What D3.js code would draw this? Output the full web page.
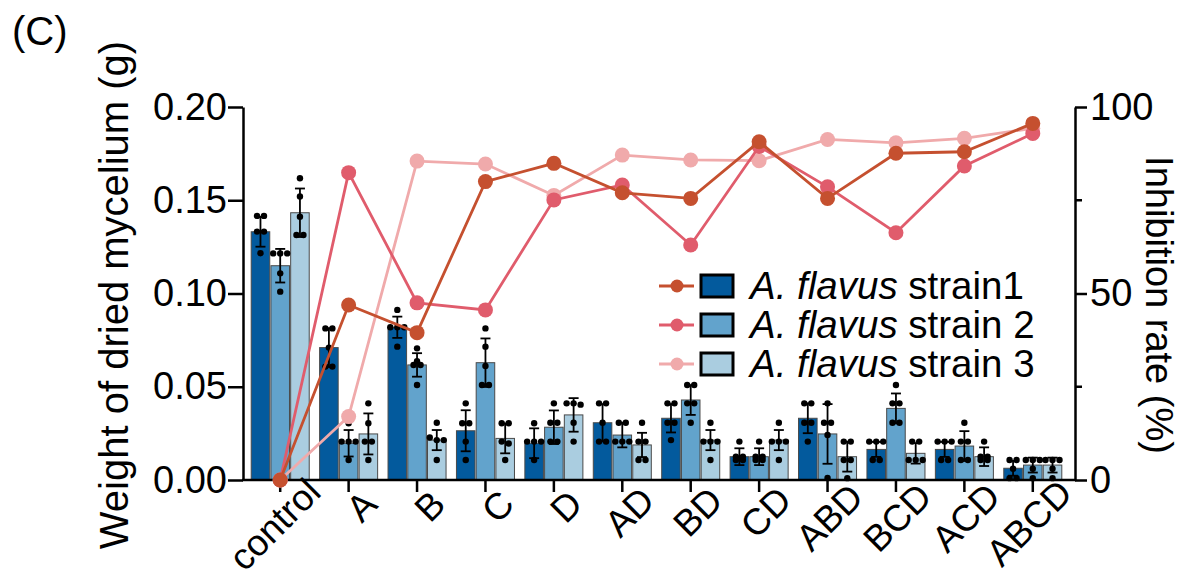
<!DOCTYPE html>
<html>
<head>
<meta charset="utf-8">
<script src="https://cdn.jsdelivr.net/npm/d3@7"></script>
<style>
  body { margin: 0; background: #fff; }
  text { font-family: "Liberation Sans", Arial, sans-serif; fill: #000; }
</style>
</head>
<body>
<div id="chart"></div>
<script>
// categories on x
const categories = ["control", "A", "B", "C", "D", "AD", "BD", "CD", "ABD", "BCD", "ACD", "ABCD"];
const strainNames = ["strain1", "strain 2", "strain 3"];

// weight of dried mycelium (g), bar means
const strain1Mean = [0.1331, 0.0710, 0.0819, 0.0264, 0.0197, 0.0307, 0.0331, 0.0125, 0.0331, 0.0164, 0.0164, 0.0063];
const strain2Mean = [0.1149, 0.0197, 0.0617, 0.0629, 0.0283, 0.0241, 0.0429, 0.0125, 0.0247, 0.0384, 0.0182, 0.0080];
const strain3Mean = [0.1433, 0.0247, 0.0214, 0.0223, 0.0349, 0.0188, 0.0214, 0.0214, 0.0125, 0.0143, 0.0125, 0.0080];

// error bars (sd)
const strain1Sd = [0.008, 0.0104, 0.0057, 0.011, 0.008, 0.010, 0.0076, 0.0045, 0.008, 0.004, 0.004, 0.004];
const strain2Sd = [0.009, 0.0071, 0.0063, 0.013, 0.009, 0.0066, 0.008, 0.0045, 0.016, 0.008, 0.008, 0.004];
const strain3Sd = [0.013, 0.011, 0.0054, 0.008, 0.009, 0.0065, 0.0054, 0.0054, 0.008, 0.0055, 0.005, 0.004];

// replicate points
const strain1Dots = [
  [0.1416, 0.1416, 0.1332, 0.1332, 0.1216], [0.0813, 0.0813, 0.0710, 0.0608, 0.0608],
  [0.0912, 0.0819, 0.0819, 0.0819, 0.0715], [0.0411, 0.0304, 0.0304, 0.0206, 0.0107],
  [0.0304, 0.0206, 0.0206, 0.0206, 0.0107], [0.0411, 0.0411, 0.0307, 0.0206, 0.0206],
  [0.0411, 0.0411, 0.0307, 0.0307, 0.0214], [0.0206, 0.0125, 0.0125, 0.0107, 0.0107],
  [0.0411, 0.0411, 0.0307, 0.0307, 0.0206], [0.0206, 0.0206, 0.0206, 0.0107, 0.0107],
  [0.0206, 0.0206, 0.0206, 0.0107, 0.0107], [0.0107, 0.0107, 0.0060, 0.0010, 0.0010]
];
const strain2Dots = [
  [0.1215, 0.1215, 0.1215, 0.1108, 0.1010], [0.0304, 0.0206, 0.0206, 0.0206, 0.0107],
  [0.0706, 0.0637, 0.0617, 0.0617, 0.0509], [0.0813, 0.0715, 0.0611, 0.0509, 0.0509],
  [0.0411, 0.0307, 0.0307, 0.0206, 0.0206], [0.0307, 0.0307, 0.0206, 0.0206, 0.0206],
  [0.0509, 0.0509, 0.0411, 0.0411, 0.0307], [0.0206, 0.0125, 0.0125, 0.0107, 0.0107],
  [0.0411, 0.0307, 0.0307, 0.0241, 0.0011], [0.0509, 0.0411, 0.0411, 0.0307, 0.0307],
  [0.0307, 0.0206, 0.0206, 0.0107, 0.0107], [0.0107, 0.0107, 0.0107, 0.0060, 0.0010]
];
const strain3Dots = [
  [0.1618, 0.1520, 0.1412, 0.1314, 0.1314], [0.0411, 0.0304, 0.0206, 0.0206, 0.0107],
  [0.0307, 0.0228, 0.0214, 0.0214, 0.0107], [0.0304, 0.0304, 0.0206, 0.0196, 0.0107],
  [0.0411, 0.0411, 0.0404, 0.0307, 0.0206], [0.0307, 0.0206, 0.0206, 0.0107, 0.0107],
  [0.0307, 0.0206, 0.0206, 0.0206, 0.0107], [0.0307, 0.0206, 0.0206, 0.0206, 0.0107],
  [0.0206, 0.0206, 0.0107, 0.0107, 0.0010], [0.0206, 0.0206, 0.0107, 0.0107, 0.0107],
  [0.0206, 0.0125, 0.0125, 0.0107, 0.0107], [0.0107, 0.0107, 0.0107, 0.0060, 0.0010]
];

// inhibition rate (%), right axis
const rate1 = [0, 46.9, 39.5, 80.0, 84.9, 77.0, 75.5, 90.7, 75.5, 87.6, 88.0, 95.6];
const rate2 = [0, 82.4, 47.5, 45.6, 75.1, 79.1, 63.0, 89.4, 78.6, 66.3, 84.2, 92.9];
const rate3 = [0, 17.0, 85.5, 84.7, 76.3, 87.1, 85.8, 85.6, 91.3, 90.4, 91.6, 94.3];

const leftTicks = [0, 0.05, 0.10, 0.15, 0.20];
const rightTicks = [0, 50, 100];
const rightMinor = [25, 75];

const barColors = ["#035a9d", "#62a3cc", "#aacde0"];
const lineColors = ["#c5502f", "#e05c6c", "#f0aaab"];

const width = 1180, height = 581;
const plotLeft = 243, plotRight = 1075, plotTop = 107, plotBottom = 480;
const fontTick = 38;

const svg = d3.select("#chart").append("svg")
  .attr("width", width).attr("height", height);

const x = d3.scaleBand().domain(categories).range([246, 1067]).paddingInner(0.152).paddingOuter(0.076);
const xSub = d3.scaleBand().domain([0, 1, 2]).range([0, x.bandwidth()]).paddingInner(0.06);
const y = d3.scaleLinear().domain([0, 0.2]).range([plotBottom, plotTop]);
const yR = d3.scaleLinear().domain([0, 100]).range([plotBottom, plotTop]);

const means = [strain1Mean, strain2Mean, strain3Mean];
const sds = [strain1Sd, strain2Sd, strain3Sd];
const dots = [strain1Dots, strain2Dots, strain3Dots];
const rates = [rate1, rate2, rate3];

const bars = [];
categories.forEach((c, i) => {
  for (let s = 0; s < 3; s++) {
    bars.push({cat: c, s: s, mean: means[s][i], sd: sds[s][i], pts: dots[s][i]});
  }
});

// bars
svg.append("g").selectAll("rect").data(bars).enter().append("rect")
  .attr("x", d => x(d.cat) + xSub(d.s))
  .attr("y", d => y(d.mean))
  .attr("width", xSub.bandwidth())
  .attr("height", d => y(0) - y(d.mean))
  .attr("fill", d => barColors[d.s])
  .attr("stroke", "#4a4a4a")
  .attr("stroke-width", 1);

// error bars
const eb = svg.append("g").attr("stroke", "#000").attr("stroke-width", 1.8);
bars.forEach(d => {
  const cx = x(d.cat) + xSub(d.s) + xSub.bandwidth() / 2;
  const lo = Math.max(0, d.mean - d.sd), hi = d.mean + d.sd;
  eb.append("line").attr("x1", cx).attr("x2", cx).attr("y1", y(lo)).attr("y2", y(hi));
  eb.append("line").attr("x1", cx - 5).attr("x2", cx + 5).attr("y1", y(hi)).attr("y2", y(hi));
  eb.append("line").attr("x1", cx - 5).attr("x2", cx + 5).attr("y1", y(lo)).attr("y2", y(lo));
});

// replicate dots, spread sideways when they share a row
const dg = svg.append("g").attr("fill", "#000");
bars.forEach(d => {
  const cx = x(d.cat) + xSub(d.s) + xSub.bandwidth() / 2;
  const rows = d3.groups(d.pts, v => Math.round(y(v) / 6));
  rows.forEach(([k, vals]) => {
    vals.forEach((v, j) => {
      dg.append("circle")
        .attr("cx", cx + (j - (vals.length - 1) / 2) * 7)
        .attr("cy", y(v))
        .attr("r", 3.2);
    });
  });
});

// axes
const axisStyle = g => {
  g.attr("font-family", null);
  g.selectAll(".domain, line").attr("stroke", "#000").attr("stroke-width", 2.5);
  g.selectAll("text").style("font-size", fontTick + "px").attr("fill", "#000");
};

svg.append("g")
  .attr("transform", `translate(${plotLeft},0)`)
  .call(d3.axisLeft(y).tickValues(leftTicks).tickFormat(d3.format(".2f")).tickSize(15).tickSizeOuter(0).tickPadding(1))
  .call(axisStyle);

const rAxis = svg.append("g")
  .attr("transform", `translate(${plotRight},0)`)
  .call(d3.axisRight(yR).tickValues(rightTicks).tickSize(12).tickSizeOuter(0).tickPadding(3))
  .call(axisStyle);
rAxis.selectAll(".minor").data(rightMinor).enter().append("line")
  .attr("class", "minor")
  .attr("x1", 0).attr("x2", 7)
  .attr("y1", d => yR(d)).attr("y2", d => yR(d))
  .attr("stroke", "#000").attr("stroke-width", 2.5);

const xAxis = svg.append("g")
  .attr("transform", `translate(0,${plotBottom})`)
  .call(d3.axisBottom(x).tickSize(12).tickSizeOuter(0).tickFormat(""))
  .call(axisStyle);
xAxis.select(".domain").attr("d", `M${plotLeft - 1},0H${plotRight + 1}`);

// rotated category labels
categories.forEach(c => {
  const g = svg.append("g")
    .attr("transform", `translate(${x(c) + x.bandwidth() / 2 + 27},510) rotate(-45)`);
  const t = g.append("text")
    .attr("text-anchor", "end")
    .style("font-size", "37px")
    .text(c);
  const len = t.node().getComputedTextLength();
  t.attr("x", 0.2 * len);
});

// inhibition lines
const line = d3.line().x((d, i) => x(categories[i]) + x.bandwidth() / 2).y(d => yR(d));
[2, 1, 0].forEach(s => {
  const g = svg.append("g");
  g.append("path").datum(rates[s])
    .attr("d", line)
    .attr("fill", "none")
    .attr("stroke", lineColors[s])
    .attr("stroke-width", 2.8);
  g.selectAll("circle").data(rates[s]).enter().append("circle")
    .attr("cx", (d, i) => x(categories[i]) + x.bandwidth() / 2)
    .attr("cy", d => yR(d))
    .attr("r", 7.5)
    .attr("fill", lineColors[s]);
});

// legend
const legend = svg.append("g");
const rowY = [286, 325, 364];
strainNames.forEach((name, s) => {
  const g = legend.append("g").attr("transform", `translate(0,${rowY[s]})`);
  g.append("line").attr("x1", 659).attr("x2", 694).attr("y1", 0).attr("y2", 0)
    .attr("stroke", lineColors[s]).attr("stroke-width", 2.8);
  g.append("circle").attr("cx", 677).attr("cy", 0).attr("r", 6.5).attr("fill", lineColors[s]);
  g.append("rect").attr("x", 701).attr("y", -11).attr("width", 32).attr("height", 22)
    .attr("fill", barColors[s]).attr("stroke", "#000").attr("stroke-width", 3);
  const t = g.append("text").attr("x", 750).attr("y", 13).style("font-size", "38.5px");
  t.append("tspan").style("font-style", "italic").text("A. flavus");
  t.append("tspan").text(" " + name);
});

// axis titles
svg.append("text")
  .attr("transform", "translate(128,295) rotate(-90)")
  .attr("text-anchor", "middle")
  .style("font-size", "40px")
  .text("Weight of dried mycelium (g)");

svg.append("text")
  .attr("transform", "translate(1146,305) rotate(90)")
  .attr("text-anchor", "middle")
  .style("font-size", "38px")
  .text("Inhibition rate (%)");

svg.append("text")
  .attr("x", 12).attr("y", 45)
  .style("font-size", "40px")
  .text("(C)");
</script>
</body>
</html>
